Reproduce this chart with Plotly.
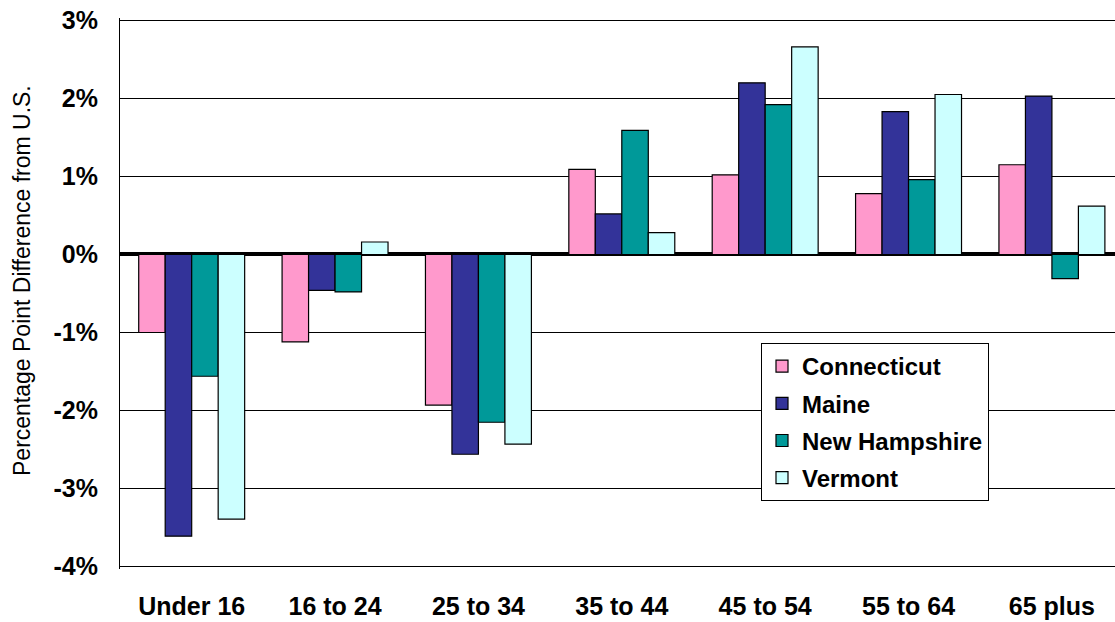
import plotly.graph_objects as go

categories = ["Under 16", "16 to 24", "25 to 34", "35 to 44", "45 to 54", "55 to 64", "65 plus"]
connecticut = [-1.00, -1.12, -1.93, 1.09, 1.02, 0.78, 1.15]
maine = [-3.61, -0.46, -2.56, 0.52, 2.20, 1.83, 2.03]
new_hampshire = [-1.56, -0.48, -2.15, 1.59, 1.92, 0.96, -0.31]
vermont = [-3.39, 0.16, -2.43, 0.28, 2.66, 2.05, 0.62]

series = [
    ("Connecticut", connecticut, "#FF99CC"),
    ("Maine", maine, "#333399"),
    ("New Hampshire", new_hampshire, "#009999"),
    ("Vermont", vermont, "#CCFFFF"),
]

y_tick_vals = [3, 2, 1, 0, -1, -2, -3, -4]
y_tick_text = ["3%", "2%", "1%", "0%", "-1%", "-2%", "-3%", "-4%"]

FONT = "Arial, Liberation Sans, sans-serif"

fig = go.Figure()
for name, vals, color in series:
    fig.add_trace(go.Bar(
        name=name, x=categories, y=vals,
        marker=dict(color=color, line=dict(color="black", width=1.2)),
        legendgroup=name,
    ))

L, T, B = 120, 18, 53
PW = 1115 - L
PH = 622 - T - B

fig.update_layout(
    width=1115, height=622,
    margin=dict(l=L, r=0, t=T, b=B, autoexpand=False),
    paper_bgcolor="white", plot_bgcolor="white",
    barmode="group", bargap=0.261, bargroupgap=0,
    font=dict(family=FONT, color="black"),
    showlegend=True,
    legend=dict(
        x=(761 - L) / PW, y=(622 - B - 343) / PH, xanchor="left", yanchor="top",
        bgcolor="white", bordercolor="black", borderwidth=1,
        font=dict(family=FONT, size=24, color="black", weight="bold"),
        tracegroupgap=3,
    ),
    xaxis=dict(
        range=[-0.5, 6.44], showgrid=False, zeroline=False, showline=False,
        ticks="", tickfont=dict(family=FONT, size=25, color="black", weight="bold"),
        ticklabelstandoff=20,
    ),
    yaxis=dict(
        range=[-4.03, 3.03], tickvals=y_tick_vals, ticktext=y_tick_text,
        showgrid=True, gridcolor="black", gridwidth=1,
        zeroline=True, zerolinecolor="black", zerolinewidth=4,
        showline=True, linecolor="black", linewidth=1,
        ticks="", tickfont=dict(family=FONT, size=25, color="black", weight="bold"),
        ticklabelstandoff=16, ticklabeloverflow="allow",
    ),
    annotations=[dict(
        text="Percentage Point Difference from U.S.",
        xref="paper", yref="paper",
        x=(22 - L) / PW, y=(622 - B - 281) / PH,
        xanchor="center", yanchor="middle", textangle=-90, showarrow=False,
        font=dict(family=FONT, size=23, color="black"),
    )],
)

fig.write_html("out.html", config={"displayModeBar": False},
               post_script="document.body.style.margin='0px';")
